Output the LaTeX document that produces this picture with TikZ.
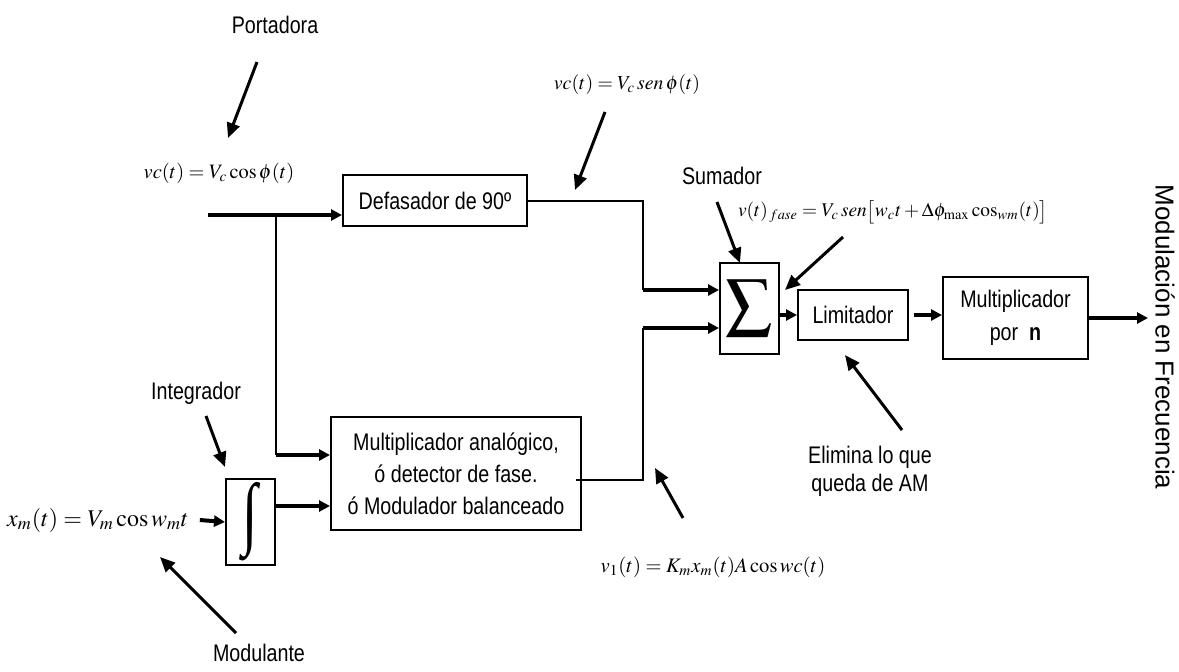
\documentclass[tikz,border=0pt]{standalone}
\usepackage{mathptmx}
\usepackage[no-math]{fontspec}
\setmainfont{Liberation Sans}[FakeStretch=0.82]
\newfontfamily\widesans{Liberation Sans}
\newfontfamily\symserif{Liberation Serif}
\usetikzlibrary{arrows.meta,calc}

\begin{document}
\begin{tikzpicture}[x=0.5pt,y=-0.5pt,
  box/.style={draw,line width=1pt,inner sep=0pt,align=center,font=\fontsize{12}{16}\selectfont},
  wire/.style={line width=1pt},
  feed/.style={line width=2pt,-{Triangle[length=5.5pt,width=5.5pt]}},
  note/.style={line width=1.5pt,-{Triangle[length=7.5pt,width=6.5pt]}},
  lbl/.style={font=\fontsize{12}{14}\selectfont,align=center}]
  \useasboundingbox (0,0) rectangle (1179,671);

  % Blocks
  \node[box,minimum width=92pt,minimum height=25.5pt] (defas) at (435,200.5) {Defasador de 90º};
  \node[box,minimum width=29.5pt,minimum height=45.5pt] (sum) at (749.5,308.5)
    {\fontsize{23}{23}\selectfont$\displaystyle\sum$};
  \node[box,minimum width=55pt,minimum height=25pt] (lim) at (853,315) {Limitador};
  \node[box,minimum width=72.5pt,minimum height=41pt,font=\fontsize{12}{16.5}\selectfont] (multn) at (1015.5,318)
    {Multiplicador\\por \ \textbf{n}};
  \node[box,minimum width=125pt,minimum height=56.5pt] (multa) at (456,473.5)
    {Multiplicador anal\'ogico,\\\'o detector de fase.\\\'o Modulador balanceado};
  \node[box,minimum width=24.5pt,minimum height=43pt] (integ) at (250.5,522)
    {\scalebox{0.7}[1]{\symserif\fontsize{40}{40}\selectfont ∫}};

  % Signals
  \node[font=\fontsize{10.2}{12}\selectfont] (vccos) at (219,173) {$vc(t)=V_c\cos\phi(t)$};
  \node[font=\fontsize{9.9}{12}\selectfont] (vcsen) at (627,85) {$vc(t)=V_c\,sen\,\phi(t)$};
  \node[font=\fontsize{9.7}{12}\selectfont] (vfase) at (893,212)
    {$v(t)_{\,fase}=V_c\,sen\bigl[w_ct+\Delta\phi_{\max}\cos_{wm}(t)\bigr]$};
  \node[font=\fontsize{12}{14}\selectfont] (xm) at (98,520) {$x_m(t)=V_m\cos w_mt$};
  \node[font=\fontsize{10.3}{12}\selectfont] (vone) at (713,567) {$v_1(t)=K_mx_m(t)A\cos wc(t)$};
  \node[rotate=-90,font=\widesans\fontsize{13}{15}\selectfont] (fm) at (1165,337) {Modulación en Frecuencia};

  % Labels
  \node[lbl] (port) at (275,25) {Portadora};
  \node[lbl] (sumador) at (722,176) {Sumador};
  \node[lbl] (integr) at (196,393) {Integrador};
  \node[lbl] (modul) at (259,653) {Modulante};
  \node[lbl] (elim) at (870,471) {Elimina lo que\\queda de AM};

  % Wiring
  \coordinate (cin) at (208,215);
  \coordinate (jn) at (276,215);
  \coordinate (bus) at (643,0);
  \coordinate (s1) at ($(sum.west)+(0,-18.5)$);
  \coordinate (s2) at ($(sum.west)+(0,19.5)$);
  \coordinate (ma1) at ($(multa.west)+(0,-18.5)$);
  \coordinate (ma2) at ($(multa.west)+(0,32.5)$);
  \coordinate (mo) at ($(multa.east)+(-6,6.5)$);
  \coordinate (out) at (1148,318);

  \draw[feed] (cin) -- (cin -| defas.west);
  \draw[wire] (jn) -- (jn |- ma1);
  \draw[feed] (jn |- ma1) -- (ma1);
  \draw[feed] ([xshift=2pt]xm.east) -- (integ.west);
  \draw[feed] (ma2 -| integ.east) -- (ma2);
  \draw[wire] (defas.east) -| (bus |- s1);
  \draw[feed] (bus |- s1) -- (s1);
  \draw[wire] (mo) -| (bus |- s2);
  \draw[feed] (bus |- s2) -- (s2);
  \draw[feed] (sum.east |- lim.west) -- (lim.west);
  \draw[feed,shorten <=2.5pt] (lim.east) -- (lim.east -| multn.west);
  \draw[feed] (multn.east) -- (out);

  % Pointers
  \coordinate (port-a) at (257,62);    \coordinate (port-b) at (228,138);
  \coordinate (vcsen-a) at (605,112);  \coordinate (vcsen-b) at (575,190);
  \coordinate (sumd-a) at (717,202);   \coordinate (sumd-b) at (740,263);
  \coordinate (vfase-a) at (843,237);  \coordinate (vfase-b) at (785,290);
  \coordinate (elim-a) at (902,430);   \coordinate (elim-b) at (845,355);
  \coordinate (vone-a) at (683,518);   \coordinate (vone-b) at (655,468);
  \coordinate (integr-a) at (206,416); \coordinate (integr-b) at (225,467);
  \coordinate (modul-a) at (236,633);  \coordinate (modul-b) at (160,557);
  \draw[note] (port-a) -- (port-b);
  \draw[note] (vcsen-a) -- (vcsen-b);
  \draw[note] (sumd-a) -- (sumd-b);
  \draw[note] (vfase-a) -- (vfase-b);
  \draw[note] (elim-a) -- (elim-b);
  \draw[note] (vone-a) -- (vone-b);
  \draw[note] (integr-a) -- (integr-b);
  \draw[note] (modul-a) -- (modul-b);
\end{tikzpicture}
\end{document}
